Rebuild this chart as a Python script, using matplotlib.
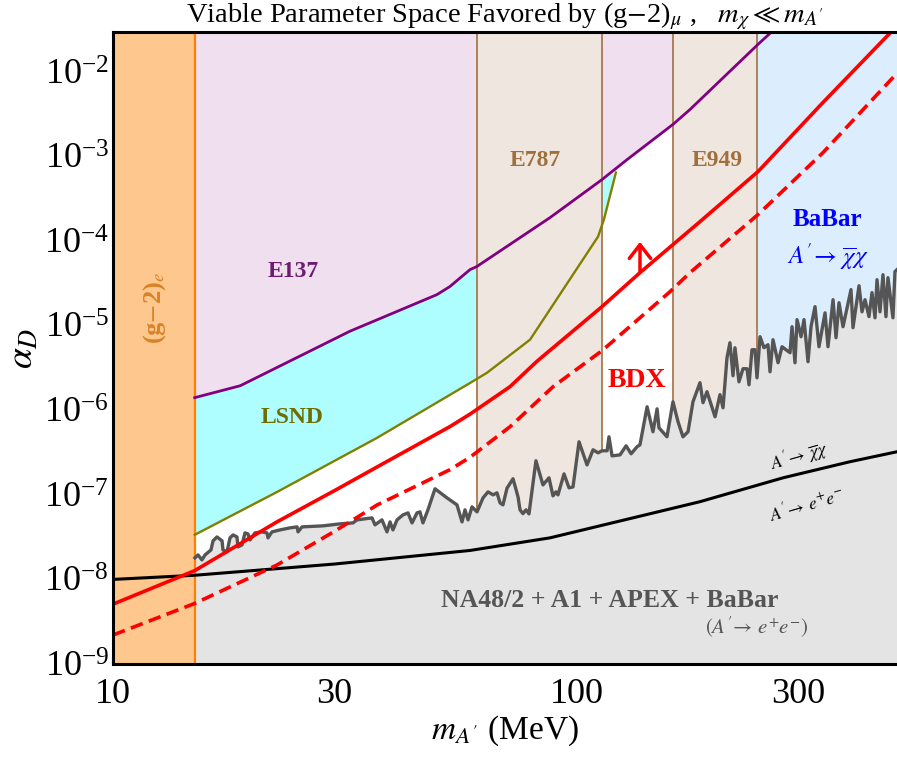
import matplotlib
matplotlib.use("Agg")
import matplotlib.pyplot as plt
import numpy as np
from matplotlib.ticker import FixedLocator, NullLocator, LogFormatterMathtext

plt.rcParams['font.family'] = ['Liberation Serif', 'DejaVu Serif']
plt.rcParams['mathtext.fontset'] = 'stix'

# ---- data (m_A' in MeV, alpha_D) ----
g2e_band = (10, 15)
e787_band = (60.8, 113.2)
e949_band = (161, 244.3)
babar_start = 244.3

# E137 lower boundary (purple)
e137_x = [15, 18.8, 32.4, 49.9, 53.2, 58.8, 60.8, 87.5, 113, 128.2, 161, 175.2, 245.5, 263]
e137_y = [1.41e-6, 1.95e-6, 8.6e-6, 2.33e-5, 2.9e-5, 4.6e-5, 5.0e-5, 1.9e-4, 5.3e-4, 9.2e-4,
          2.4e-3, 3.6e-3, 2.12e-2, 3.0e-2]

# LSND lower boundary (olive)
lsnd_x = [15, 22.56, 37.1, 58.8, 64.0, 79.2, 111, 114.3, 121.3]
lsnd_y = [3.37e-8, 1.08e-7, 4.73e-7, 2.1e-6, 2.78e-6, 6.83e-6, 1.13e-4, 1.80e-4, 6.47e-4]

# BDX projections
bdx_x = [10, 15, 22.56, 30, 37.1, 53.2, 58.8, 71.7, 82.0, 113.2, 136.7, 161, 184.1, 245.5, 338.8, 489]
bdx_y = [5.1e-9, 1.27e-8, 4.79e-8, 1.12e-7, 2.14e-7, 6.4e-7, 9.0e-7, 1.9e-6, 3.8e-6, 1.68e-5,
         4.24e-5, 9.1e-5, 1.7e-4, 6.64e-4, 4.35e-3, 3.5e-2]
bdx2_x = [10, 15, 22.56, 30, 37.1, 53.2, 58.8, 71.7, 88.8, 113.2, 158.6, 175.2, 245.5, 338.8, 479.7, 489]
bdx2_y = [2.2e-9, 5.2e-9, 1.48e-8, 3.7e-8, 7.6e-8, 1.98e-7, 2.78e-7, 6.38e-7, 1.9e-6, 5.06e-6,
          2.52e-5, 4.24e-5, 2.06e-4, 1.11e-3, 8.6e-3, 9.6e-3]

# A' -> chi chi / e+e- boundary
bound_x = [10, 15, 30, 58.8, 87.4, 121.7, 184.1, 278, 387, 489]
bound_y = [1.0e-8, 1.12e-8, 1.52e-8, 2.2e-8, 3.1e-8, 4.8e-8, 8.3e-8, 1.59e-7, 2.46e-7, 3.23e-7]

# NA48/2 + A1 + APEX + BaBar visible limit
vis_x = [15.02, 15.25, 15.55, 15.79, 16.26, 16.43, 16.75, 17.18, 17.26, 17.61, 17.87, 18.14, 18.50,
         18.59, 18.97, 19.25, 19.54, 19.74, 20.23, 20.95, 21.47, 21.58, 22.01, 22.90, 24.07, 24.93,
         25.05, 25.55, 28.36, 30.86, 32.90, 33.57, 36.16, 36.70, 37.99, 38.95, 39.54, 40.12, 40.94,
         42.17, 43.23, 44.10, 45.21, 45.87, 46.56, 47.73, 49.43, 52.46, 55.13, 56.52, 57.36, 58.23,
         59.39, 60.89, 62.73, 64.30, 65.92, 67.24, 68.25, 69.26, 70.66, 72.80, 74.63, 75.37, 76.48,
         77.64, 78.80, 81.57, 84.46, 87.02, 88.77, 90.09, 91.00, 93.76, 96.12, 98.04, 101.0, 105.1,
         108.3, 111.0, 113.2, 116.1, 117.2, 119.0, 123.8, 127.6, 130.8, 134.7, 136.7, 141.6, 145.8,
         148.8, 150.2, 156.3, 161.0, 165.1, 169.2, 173.5, 177.8, 184.1, 186.9, 190.6, 198.4, 203.3,
         206.4, 210.5, 213.6, 216.9, 219.0, 223.4, 227.9, 232.5, 234.8, 238.3, 241.9, 244.3, 248.0,
         252.9, 258.0, 260.6, 264.5, 271.2, 276.6, 287.8, 290.7, 295.0, 298.0, 304.0, 308.5, 314.7,
         319.4, 325.8, 332.3, 342.4, 347.5, 356.3, 361.6, 367.0, 374.4, 389.5, 393.4, 405.3, 411.4,
         417.6, 425.9, 432.3, 438.8, 443.2, 449.8, 456.5, 463.3, 467.9, 479.7, 484.5, 489.4]
vis_y = [1.80e-8, 1.95e-8, 1.70e-8, 1.95e-8, 2.23e-8, 2.86e-8, 3.18e-8, 2.86e-8, 2.23e-8, 2.12e-8,
         3.10e-8, 3.36e-8, 3.18e-8, 2.42e-8, 2.56e-8, 3.55e-8, 3.45e-8, 2.93e-8, 3.55e-8, 3.65e-8,
         3.55e-8, 3.10e-8, 3.65e-8, 3.85e-8, 4.07e-8, 4.18e-8, 3.65e-8, 4.18e-8, 4.30e-8, 4.54e-8,
         4.66e-8, 5.06e-8, 5.34e-8, 4.42e-8, 5.06e-8, 3.65e-8, 4.79e-8, 3.85e-8, 5.06e-8, 5.80e-8,
         6.12e-8, 4.66e-8, 6.12e-8, 6.29e-8, 4.66e-8, 6.65e-8, 1.18e-7, 9.21e-8, 7.61e-8, 4.79e-8,
         6.65e-8, 5.06e-8, 7.21e-8, 6.29e-8, 9.21e-8, 1.085e-7, 1.0e-7, 1.056e-7, 8.04e-8, 7.61e-8,
         1.2e-7, 1.55e-7, 9.47e-8, 6.65e-8, 6.0e-8, 6.65e-8, 5.96e-8, 2.53e-7, 1.31e-7, 1.59e-7,
         9.73e-8, 1.085e-7, 1.0e-7, 1.77e-7, 1.21e-7, 1.24e-7, 4.24e-7, 2.26e-7, 3.41e-7, 3.14e-7,
         3.32e-7, 3.32e-7, 4.86e-7, 2.89e-7, 2.97e-7, 3.80e-7, 3.06e-7, 3.70e-7, 3.91e-7, 1.10e-6,
         5.57e-7, 1.04e-6, 6.21e-7, 4.86e-7, 1.26e-6, 7.31e-7, 4.86e-7, 5.57e-7, 1.26e-6, 2.12e-6,
         1.23e-6, 1.66e-6, 8.38e-7, 1.53e-6, 1.07e-6, 4.18e-6, 6.29e-6, 2.56e-6, 5.49e-6, 2.17e-6,
         3.10e-6, 3.10e-6, 2.00e-6, 5.20e-6, 5.20e-6, 2.42e-6, 7.41e-6, 5.49e-6, 5.96e-6, 2.85e-6,
         6.83e-6, 3.65e-6, 5.64e-6, 4.79e-6, 9.73e-6, 3.65e-6, 1.18e-5, 7.41e-6, 1.18e-5, 3.75e-6,
         9.73e-6, 1.68e-5, 5.64e-6, 1.42e-5, 5.64e-6, 2.03e-5, 7.21e-6, 1.87e-5, 9.73e-6, 2.67e-5,
         9.47e-6, 2.97e-5, 1.46e-5, 2.03e-5, 1.28e-5, 2.46e-5, 1.24e-5, 3.50e-5, 1.46e-5, 4.01e-5,
         1.28e-5, 3.70e-5, 1.24e-5, 4.36e-5, 4.60e-5]

arrow_x = 136.7
arrow_y = (4.3e-5, 9.8e-5)

x_ticks = [10, 30, 100, 300]
xmin, xmax = 10, 489.4
ymin, ymax = 1e-9, 2.97e-2

fig = plt.figure(figsize=(8.97, 7.59), dpi=100)
ax = fig.add_axes([113 / 897, 95 / 759, 784 / 897, 632 / 759])
ax.set_xscale('log')
ax.set_yscale('log')
ax.set_xlim(xmin, xmax)
ax.set_ylim(ymin, ymax)

# fills
ax.fill_between(e137_x, e137_y, ymax, color='#F0DFEF', lw=0, zorder=1)
lsnd_poly_x = lsnd_x + [x for x in e137_x if x <= 113][::-1]
lsnd_poly_y = lsnd_y + [y for x, y in zip(e137_x, e137_y) if x <= 113][::-1]
ax.fill(lsnd_poly_x, lsnd_poly_y, color='#AFFEFF', lw=0, zorder=1.5)
ax.axvspan(babar_start, xmax, color='#DCEDFD', lw=0, zorder=2)
for lo, hi in (e787_band, e949_band):
    ax.axvspan(lo, hi, facecolor='#F0E6E0', edgecolor='#A67A50', lw=1.3, zorder=2.5)
ax.fill_between(vis_x, 1e-12, vis_y, color='#E4E4E4', lw=0, zorder=3)
ax.axvspan(*g2e_band, facecolor='#FDC78E', edgecolor='none', zorder=3.5)
ax.axvline(g2e_band[1], color='#FF8000', lw=1.6, zorder=3.6)

# lines
ax.plot(e137_x, e137_y, color='#800080', lw=2, zorder=4)
ax.plot(lsnd_x, lsnd_y, color='#808000', lw=1.7, zorder=4)
ax.plot(vis_x, vis_y, color='#555555', lw=2.4, zorder=4)
ax.plot(bound_x, bound_y, color='black', lw=2.2, zorder=5)
ax.plot(bdx_x, bdx_y, color='#FF0000', lw=2.6, zorder=6)
ax.plot(bdx2_x, bdx2_y, color='#FF0000', lw=2.6, ls=(0, (3.5, 1.8)), zorder=6)
ax.annotate('', xy=(arrow_x, arrow_y[1]), xytext=(arrow_x, arrow_y[0]),
            arrowprops=dict(arrowstyle='->,head_width=0.35,head_length=0.45', color='#FF0000',
                            lw=2.5, mutation_scale=22, shrinkA=0, shrinkB=0), zorder=7)

# labels in the plot
ax.text(12.3, 1.63e-5, '(g$-$2)$_e$', rotation=90, color='#D98326', fontsize=19,
        fontweight='bold', ha='center', va='center', zorder=8)
ax.text(24.4, 4.36e-5, 'E137', color='#6E1C6E', fontsize=17, fontweight='bold',
        ha='center', va='center', zorder=8)
ax.text(24.3, 8.15e-7, 'LSND', color='#6E6E00', fontsize=17, fontweight='bold',
        ha='center', va='center', zorder=8)
ax.text(81.2, 8.97e-4, 'E787', color='#A0703C', fontsize=17, fontweight='bold',
        ha='center', va='center', zorder=8)
ax.text(200, 8.97e-4, 'E949', color='#A0703C', fontsize=17, fontweight='bold',
        ha='center', va='center', zorder=8)
ax.text(347, 1.8e-4, 'BaBar', color='#0000FF', fontsize=18, fontweight='bold',
        ha='center', va='center', zorder=8)
ax.text(347, 6.56e-5, r"$A'\!\rightarrow\,\overline{\chi}\chi$", color='#0000FF', fontsize=18,
        ha='center', va='center', zorder=8)
ax.text(134.7, 2.23e-6, 'BDX', color='#FF0000', fontsize=20, fontweight='bold',
        ha='center', va='center', zorder=8)
ax.text(301, 2.82e-7, r"$A'\!\rightarrow\,\overline{\chi}\chi$", color='black', fontsize=13,
        rotation=16, ha='center', va='center', zorder=8)
ax.text(313, 7.6e-8, r"$A'\!\rightarrow\,e^{+}e^{-}$", color='black', fontsize=13,
        rotation=16, ha='center', va='center', zorder=8)
ax.text(117.8, 5.57e-9, 'NA48/2 + A1 + APEX + BaBar', color='#555555', fontsize=18.5,
        fontweight='bold', ha='center', va='center', zorder=8)
ax.text(244, 2.67e-9, r"$(A'\!\rightarrow\,e^{+}e^{-})$", color='#555555', fontsize=15,
        ha='center', va='center', zorder=8)

# axes styling
ax.set_title(r"Viable Parameter Space Favored by (g$-$2)$_\mu$ ,   $m_\chi \ll m_{A'}$",
             fontsize=20.5, pad=2)
ax.set_xlabel(r"$m_{A'}$ (MeV)", fontsize=24, labelpad=2)
ax.set_ylabel(r"$\alpha_D$", fontsize=27, labelpad=2)

ax.xaxis.set_major_locator(FixedLocator(x_ticks))
ax.set_xticklabels([str(t) for t in x_ticks])
ax.xaxis.set_minor_locator(NullLocator())
ax.yaxis.set_major_locator(FixedLocator([10.0 ** k for k in range(-9, -1)]))
ax.yaxis.set_major_formatter(LogFormatterMathtext())
ax.yaxis.set_minor_locator(NullLocator())
ax.tick_params(which='major', direction='in', length=5, width=1.5, labelsize=26, pad=3)
ax.tick_params(axis='x', pad=10)

for side in ('left', 'bottom', 'top'):
    ax.spines[side].set_linewidth(2.2)
    ax.spines[side].set_zorder(10)
ax.spines['right'].set_visible(False)

fig.savefig('out.png', dpi=100)
